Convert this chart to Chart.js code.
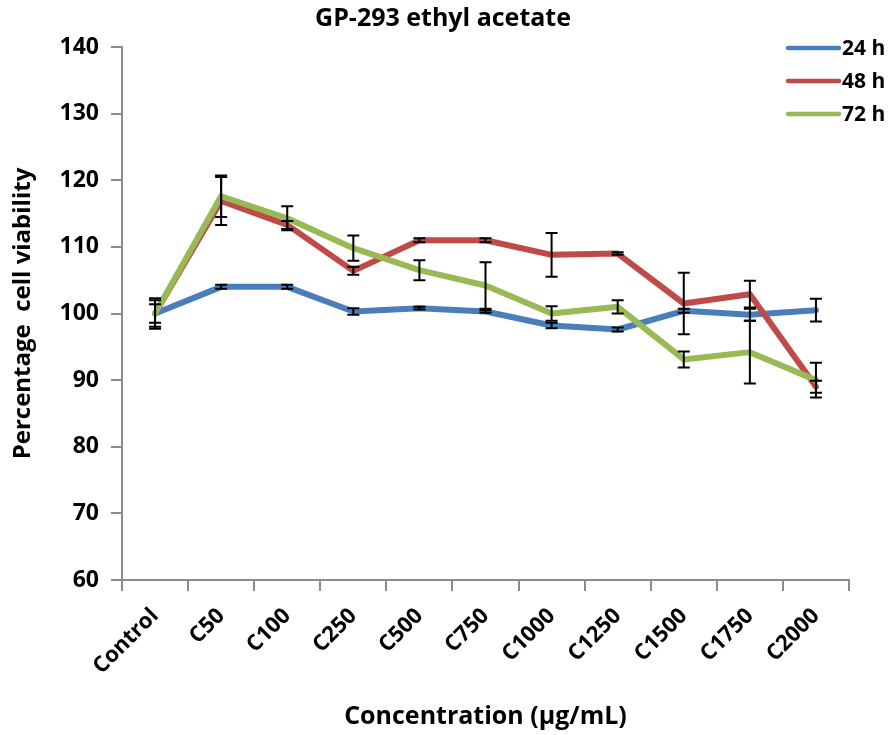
<!DOCTYPE html>
<html>
<head>
<meta charset="utf-8">
<script src="https://cdn.jsdelivr.net/npm/chart.js@4/dist/chart.umd.min.js"></script>
<style>
html,body{margin:0;padding:0;background:#fff;}
#wrap{width:893px;height:735px;position:relative;}
</style>
</head>
<body>
<div id="wrap"><canvas id="c" width="893" height="735"></canvas></div>
<script>
const categories = ["Control","C50","C100","C250","C500","C750","C1000","C1250","C1500","C1750","C2000"];
const seriesNames = ["24 h","48 h","72 h"];
const values24 = [100.0,104.0,104.0,100.3,100.8,100.3,98.2,97.6,100.4,99.8,100.5];
const values48 = [100.0,116.9,113.3,106.4,111.0,111.0,108.8,109.0,101.5,102.9,89.0];
const values72 = [100.0,117.6,114.3,109.8,106.5,104.2,100.0,101.0,93.1,94.2,90.0];
const err24 = [1.4,0.3,0.3,0.5,0.2,0.2,0.4,0.3,0.3,0.9,1.7];
const err48 = [2.3,3.6,0.6,0.6,0.3,0.3,3.3,0.2,4.6,2.0,0.9];
const err72 = [2.0,3.1,1.8,1.9,1.5,3.5,1.1,1.0,1.2,4.7,2.6];
const yTicks = [60,70,80,90,100,110,120,130,140];

const colors = ["#4a7ebb","#be4b48","#98b954"];
const FONT = "'Open Sans', 'DejaVu Sans', sans-serif";

const errorBars = {
  id: 'errorBars',
  afterDatasetsDraw(chart) {
    const ctx = chart.ctx, xs = chart.scales.x, ys = chart.scales.y;
    const errs = [err24, err48, err72];
    ctx.save();
    ctx.strokeStyle = '#000';
    ctx.lineWidth = 2;
    chart.data.datasets.forEach((ds, di) => {
      ds.data.forEach((v, i) => {
        const e = errs[di][i];
        const x = xs.getPixelForValue(i);
        const yt = ys.getPixelForValue(v + e), yb = ys.getPixelForValue(v - e);
        ctx.beginPath();
        ctx.moveTo(x, yt); ctx.lineTo(x, yb);
        ctx.moveTo(x - 6, yt); ctx.lineTo(x + 6, yt);
        ctx.moveTo(x - 6, yb); ctx.lineTo(x + 6, yb);
        ctx.stroke();
      });
    });
    ctx.restore();
  }
};

const customLegend = {
  id: 'customLegend',
  afterDraw(chart) {
    const ctx = chart.ctx;
    ctx.save();
    ctx.font = "bold 21px " + FONT;
    ctx.textBaseline = 'middle';
    ctx.fillStyle = '#000';
    chart.data.datasets.forEach((ds, i) => {
      const y = 48 + i * 33;
      ctx.strokeStyle = ds.borderColor;
      ctx.lineWidth = 4.5;
      ctx.lineCap = 'round';
      ctx.beginPath();
      ctx.moveTo(788, y); ctx.lineTo(839, y);
      ctx.stroke();
      ctx.fillText(ds.label, 842, y + 1);
    });
    ctx.restore();
  }
};

const titleShift = {
  id: 'titleShift',
  afterLayout(chart) {
    const tb = chart.titleBlock;
    if (tb) { tb.left = 0; tb.right = 886; tb.width = 886; }
  }
};

new Chart(document.getElementById('c'), {
  type: 'line',
  data: {
    labels: categories,
    datasets: [
      {label: seriesNames[0], data: values24, borderColor: colors[0], backgroundColor: colors[0], order: 3},
      {label: seriesNames[1], data: values48, borderColor: colors[1], backgroundColor: colors[1], order: 2},
      {label: seriesNames[2], data: values72, borderColor: colors[2], backgroundColor: colors[2], order: 1}
    ]
  },
  options: {
    responsive: false,
    animation: false,
    devicePixelRatio: 1,
    layout: {padding: {top: 2, right: 44, bottom: 0, left: 0}},
    elements: {
      line: {borderWidth: 6, tension: 0, borderJoinStyle: 'round', borderCapStyle: 'round'},
      point: {radius: 0, hoverRadius: 0}
    },
    plugins: {
      legend: {display: false},
      tooltip: {enabled: false},
      title: {
        display: true,
        text: 'GP-293 ethyl acetate',
        color: '#000',
        font: {family: FONT, size: 25, weight: 'bold'},
        padding: {top: 2, bottom: 13}
      }
    },
    scales: {
      x: {
        type: 'category',
        offset: true,
        afterFit(scale) { scale.height = 155; },
        border: {color: '#8c8c8c', width: 2},
        grid: {display: true, offset: true, drawOnChartArea: false, drawTicks: true, tickLength: 11, color: '#8c8c8c', lineWidth: 2},
        ticks: {color: '#000', maxRotation: 45, minRotation: 45, padding: 12, font: {family: FONT, size: 22, weight: 'bold'}},
        title: {display: true, text: 'Concentration (μg/mL)', color: '#000', font: {family: FONT, size: 25, weight: 'bold'}, padding: {top: 0, bottom: 3}}
      },
      y: {
        min: 60, max: 140,
        afterFit(scale) { scale.width = 122; },
        afterBuildTicks(scale) { scale.ticks = yTicks.map(v => ({value: v})); },
        border: {color: '#8c8c8c', width: 2},
        grid: {display: true, drawOnChartArea: false, drawTicks: true, tickLength: 11, color: '#8c8c8c', lineWidth: 2},
        ticks: {color: '#000', padding: 12, font: {family: FONT, size: 23, weight: 'bold'}},
        title: {display: true, text: 'Percentage  cell viability', color: '#000', font: {family: FONT, size: 24, weight: 'bold'}, padding: {top: 9, bottom: 0}}
      }
    }
  },
  plugins: [errorBars, customLegend, titleShift]
});
</script>
</body>
</html>
